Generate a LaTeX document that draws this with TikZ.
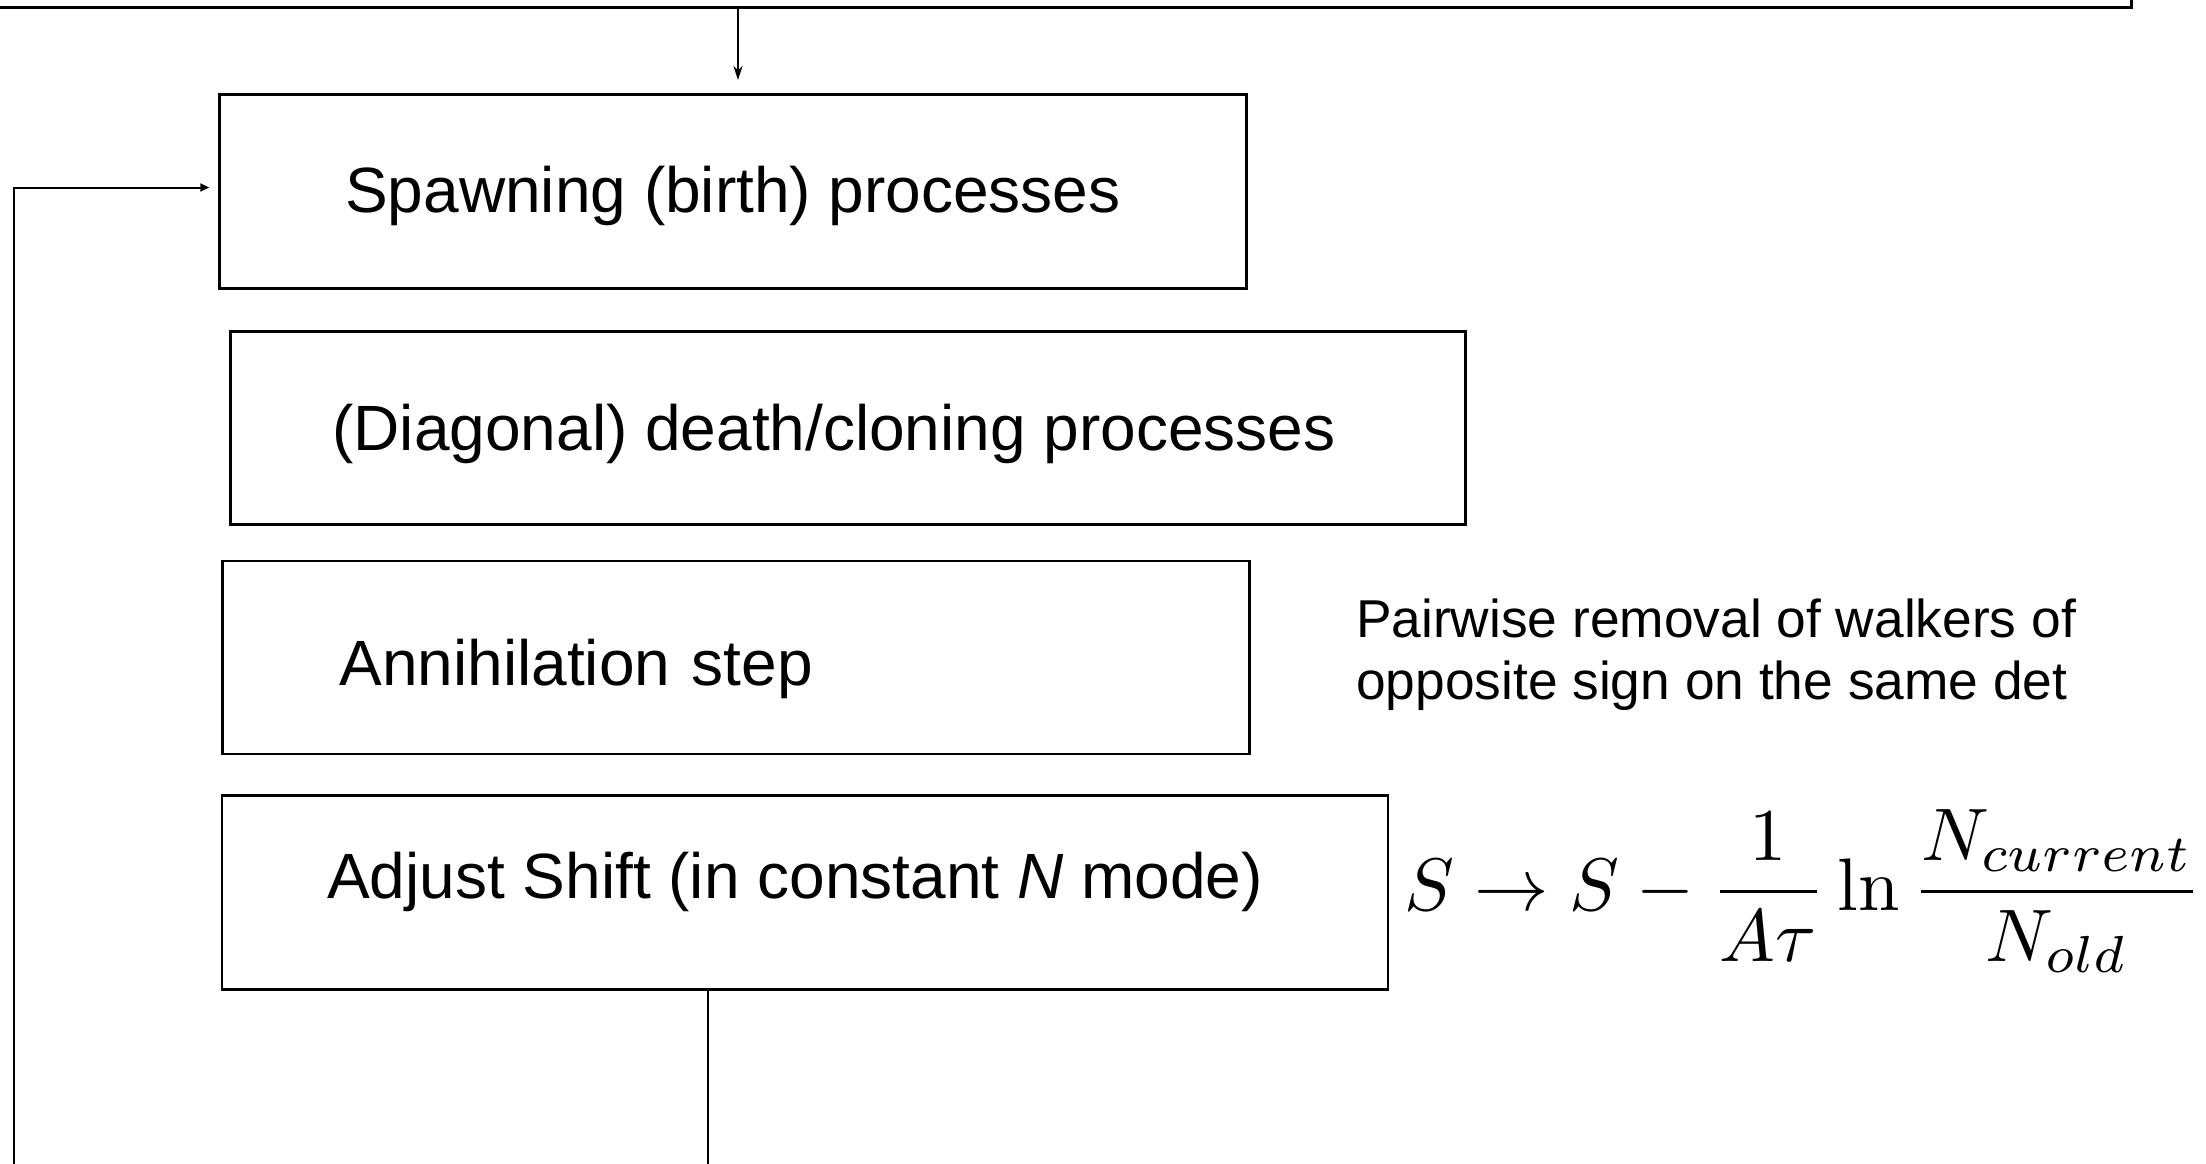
\documentclass[tikz,border=0pt]{standalone}
\usepackage[no-math]{fontspec}
\setmainfont{Liberation Sans}
\usepackage{amsmath}
\usepackage{graphicx}
\usetikzlibrary{arrows.meta,positioning,calc}
\begin{document}
\begin{tikzpicture}[x=1pt,y=-1pt,
  stepbox/.style={draw,line width=2.5pt,rectangle,inner sep=0pt,text depth=0pt,
    font=\fontsize{64}{77}\selectfont},
  flow/.style={line width=2pt},
  note/.style={font=\fontsize{53.3}{62}\selectfont,align=left,inner sep=0pt}]
\useasboundingbox (0,0) rectangle (2206,1164);
% initialisation box running off the top of the page
\node[draw,line width=3pt,minimum width=2200pt,minimum height=200pt,anchor=south east,inner sep=0pt] (init) at (2133,9) {};
% loop steps
\node[stepbox,minimum width=1027pt,minimum height=194pt,text height=41pt] (spawn) at (733,191.5) {Spawning (birth) processes};
\node[stepbox,minimum width=1235pt,minimum height=193pt,text height=44pt] (death) at (848,428) {\hspace*{-28pt}(Diagonal) death/cloning processes};
\node[stepbox,minimum width=1027pt,minimum height=193pt,text height=55pt,text width=793pt,align=left,inner xsep=117pt] (annih) at (736,657.5) {Annihilation step};
\node[stepbox,minimum width=1166pt,minimum height=194pt,text height=11pt] (shift) at (805,892.5) {\hspace*{-20pt}Adjust Shift (in constant \textit{N} mode)};
% side notes
\node[note,anchor=west] (pair) at (1356,655) {Pairwise removal of walkers of\\opposite sign on the same det};
\node[anchor=west,inner sep=0pt] (eqn) at (1404,891) {\resizebox{797pt}{!}{$\displaystyle S\rightarrow S-\frac{1}{A\tau}\ln\frac{N_{current}}{N_{old}}$}};
% connectors
\draw[flow,-{Stealth[length=14pt,width=9pt]}] (init.south -| 738,0) -- (738,80) coordinate (topend);
\coordinate (loopbottom) at (708,1164);
\coordinate (feedbottom) at (14,1164);
\draw[flow] (shift.south -| loopbottom) -- (loopbottom);
\draw[flow,-{Triangle[length=9pt,width=8pt]},shorten >=9pt] (feedbottom) |- ([yshift=4pt]spawn.west);
\end{tikzpicture}
\end{document}
